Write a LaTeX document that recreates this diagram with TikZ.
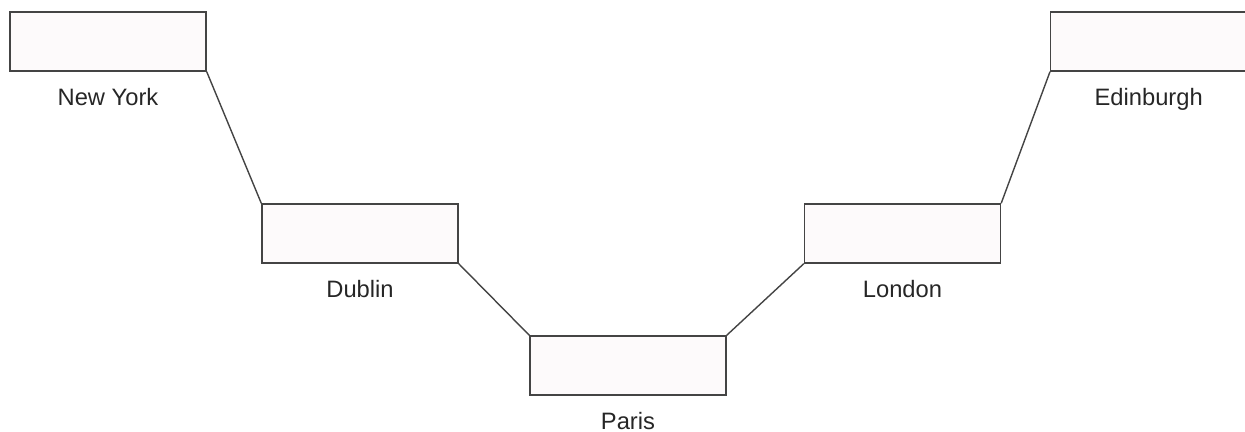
\documentclass[tikz,border=0pt]{standalone}
\usepackage{fontspec}
\setmainfont{Liberation Sans}
\usepackage{tikz}
\usetikzlibrary{positioning}
\definecolor{boxfill}{HTML}{FDFAFB}
\definecolor{edge}{HTML}{444444}

\begin{document}
\begin{tikzpicture}[
    city/.style={draw=edge, fill=boxfill, rectangle, line width=0.8pt, minimum width=3.92cm, minimum height=1.18cm, inner sep=0pt},
    citylbl/.style={font=\fontsize{13.5}{16}\selectfont, text=black!85, inner sep=0pt},
    link/.style={draw=edge, line width=0.8pt},
]
\useasboundingbox (0, 0) rectangle (24.9, 8.64);

\node[city] (ny) at (2.16, 7.81) {};
\node[city] (dublin) at (7.2, 3.97) {};
\node[city] (paris) at (12.56, 1.33) {};
\node[city] (london) at (18.05, 3.97) {};
% runs off the right edge
\node[city, minimum width=4.4cm, anchor=west] (edinburgh) at (21.0, 7.81) {};

% City names
\node[citylbl, below=0.32cm of ny] (nylbl) {New York};
\node[citylbl, below=0.32cm of dublin] (dublinlbl) {Dublin};
\node[citylbl, below=0.32cm of paris] (parislbl) {Paris};
\node[citylbl, below=0.32cm of london] (londonlbl) {London};
\node[citylbl, below=0.32cm of edinburgh, xshift=-0.24cm] (edinburghlbl) {Edinburgh};

\draw[link] (ny.south east) -- (dublin.north west);
\draw[link] (dublin.south east) -- (paris.north west);
\draw[link] (paris.north east) -- (london.south west);
\draw[link] (london.north east) -- (edinburgh.south west);
\end{tikzpicture}
\end{document}
